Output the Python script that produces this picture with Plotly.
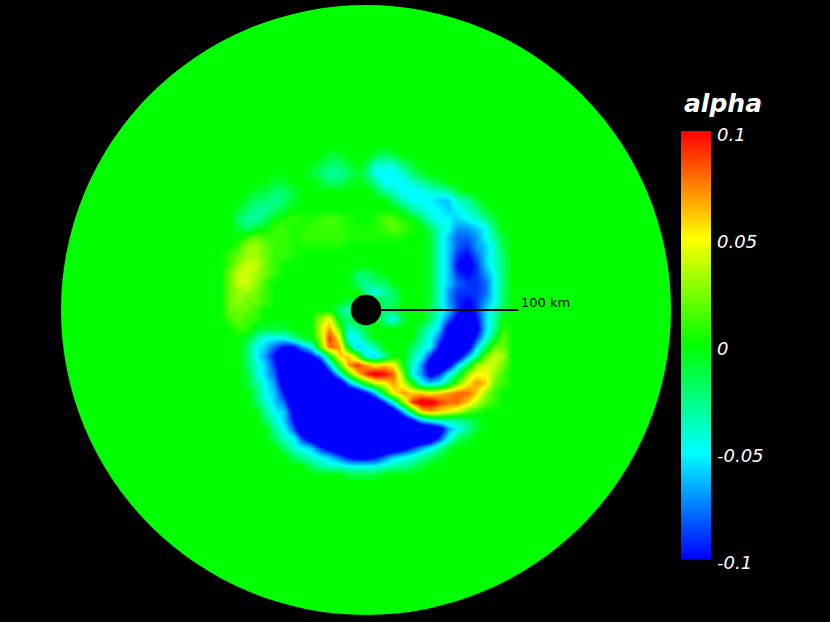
import plotly.graph_objects as go

# disc and hole sizes in km (scale)
disc_radius = 200
hole_radius = 10
line_km = [10, 100]

# colour bar ticks
tick_vals = [0.1, 0.05, 0, -0.05, -0.1]
tick_text = ["0.1", "0.05", "0", "-0.05", "-0.1"]

# grid of the central region, km
x_km = list(range(-96, 102, 6))
y_km = list(range(108, -114, -6))

# alpha in units of 0.01, read by eye (values below -10 saturate to blue)
alpha_rows = [
    [0,0,0,0,0,0,0,0,0,0,0,0,0,0,0,0,0,0,0,0,0,0,0,0,0,0,0,0,0,0,0,0,0],
    [0,0,0,0,0,0,0,0,0,0,0,0,-1,-1,0,0,0,-1,-2,-1,0,0,0,0,0,0,0,0,0,0,0,0,0],
    [0,0,0,0,0,0,0,0,0,0,0,-1,-2,-2,-1,0,-1,-4,-4,-4,-2,-1,0,0,0,0,0,0,0,0,0,0,0],
    [0,0,0,0,0,0,0,0,0,0,-1,-2,-3,-3,-2,-1,-2,-5,-5,-5,-4,-2,-1,0,0,0,0,0,0,0,0,0,0],
    [0,0,0,0,0,0,-1,-1,0,0,0,-1,-2,-2,-1,0,-1,-3,-5,-5,-5,-4,-3,-2,-1,0,0,0,0,0,0,0,0],
    [0,0,0,0,-1,-1,-2,-2,-1,0,0,0,0,0,0,0,0,-1,-3,-4,-5,-5,-5,-4,-4,-3,-1,0,0,0,0,0,0],
    [0,0,0,-1,-2,-2,-3,-2,-1,0,0,0,0,0,0,0,0,0,0,-2,-4,-5,-5,-5,-6,-6,-4,-3,-1,0,0,0,0],
    [0,0,-1,-2,-3,-3,-2,-1,0,0,0,0,0,0,0,0,0,0,0,0,-1,-3,-4,-5,-5,-6,-5,-4,-3,-1,0,0,0],
    [0,0,-2,-3,-3,-2,0,0.5,1,0.5,0.5,1,1.5,1,0.5,0,0,0.5,1.5,1.5,0.5,0,-2,-4,-5,-5,-6,-5,-4,-3,-1,0,0],
    [0,0,-1,-2,-1,0,1,1,0.5,0.5,1,1,1,1,0.5,0.5,0.5,0.5,1,2,1,0.5,0,-2,-4,-5,-7,-7,-6,-5,-2,0,0],
    [0,0,0,1,2,1,1,1,0.5,1,1,1,1,1,0.5,0.5,0.5,0.5,0.5,0.5,0.5,0,0,-1,-4,-6,-8,-8,-7,-5,-3,-1,0],
    [0,0,1,3,3,2,1,1,0.5,0.5,0.5,0.5,0.5,0.5,0,0,0,0,0,0,0,0,0,-1,-4,-6,-8,-9,-7,-6,-4,-1,0],
    [0,1,2,3,3,2,1,1,0.5,0,0,0,0,0,0,0,0,0,0,0,0,0,0,-1,-4,-6,-9,-10,-8,-6,-4,-2,0],
    [0,1,3,4,4,2,1,0,0,0,0,0,0,0,0,0,0,0,0,0,0,0,0,-1,-4,-6,-10,-11,-9,-6,-4,-2,0],
    [0,2,4,4,3,2,1,0,0,0,0,0,0,0,0,-2,-2,-1,0,0,0,0,0,-1,-4,-6,-9,-10,-9,-7,-5,-2,0],
    [0,2,4,4,3,1,0,0,0,0,0,0,0,0,0,-2,-3,-2,-2,0,0,0,0,-1,-4,-6,-8,-9,-9,-8,-5,-2,0],
    [0,2,3,3,2,1,0,0,0,0,0,0,0,0,0,0,-3,-5,-3,-2,0,0,0,-1,-4,-7,-9,-9,-9,-8,-5,-2,0],
    [0,2,3,2,2,1,0,0,0,0,0,0,0,0,-1,0,0,0,-2,-2,0,0,0,-1,-4,-7,-9,-10,-9,-7,-5,-2,0],
    [0,2,2,2,1,0,0,0,0,0,0,0,0,-2,-4,0,0,0,-2,-1,0,0,0,-2,-4,-6,-9,-11,-9,-6,-4,-1,0],
    [0,1,2,1,1,0,0,0,0,0,0,3,5,-1,-2,0,0,0,-3,-5,-1,0,0,-2,-5,-8,-11,-12,-10,-6,-3,0,0],
    [0,0,1,1,-1,-1,-1,-1,0,0,0,4,7,2,-4,-3,-1,0,0,0,0,0,-2,-4,-6,-11,-13,-13,-11,-6,-3,1,0],
    [0,0,0,-1,-3,-5,-5,-5,-3,-1,0,3,9,5,-5,-5,-2,0,0,0,0,0,-3,-5,-8,-12,-14,-13,-9,-5,-1,2,0],
    [0,0,0,-2,-5,-6,-8,-10,-10,-7,-5,2,8,7,-1,-6,-5,-3,0,0,0,-2,-4,-5,-10,-14,-14,-12,-6,-2,2,2,0],
    [0,0,0,-2,-5,-7,-10,-14,-14,-12,-10,-7,-1,6,6,2,-5,-6,-3,0,0,-3,-5,-9,-14,-14,-12,-7,-3,2,4,3,0],
    [0,0,0,-2,-4,-6,-9,-13,-14,-14,-14,-12,-6,1,7,9,7,5,6,5,0,-4,-7,-12,-14,-11,-6,-2,3,4,4,2,0],
    [0,0,0,-1,-4,-6,-8,-13,-14,-14,-14,-14,-11,-5,1,6,9,11,10,8,2,-5,-7,-11,-9,-5,-2,3,5,5,3,1,0],
    [0,0,0,-1,-3,-5,-7,-12,-14,-14,-14,-14,-14,-13,-7,-3,1,4,5,7,4,0,-5,-6,-5,-2,2,5,7,6,2,1,0],
    [0,0,0,0,-2,-5,-6,-10,-14,-14,-14,-14,-14,-14,-14,-13,-10,-6,0,5,7,6,6,5,6,7,8,8,6,3,1,0,0],
    [0,0,0,0,-2,-4,-6,-8,-13,-14,-14,-14,-14,-14,-14,-14,-14,-13,-9,-4,3,9,11,11,9,8,8,6,4,2,1,0,0],
    [0,0,0,0,0,-3,-5,-6,-11,-14,-14,-14,-14,-14,-14,-14,-14,-14,-14,-12,-6,0,6,7,6,5,4,2,1,0,0,0,0],
    [0,0,0,0,0,-2,-4,-6,-10,-14,-14,-14,-14,-14,-14,-14,-14,-14,-14,-14,-13,-10,-6,-4,-3,-3,-3,-2,-1,0,0,0,0],
    [0,0,0,0,0,0,-3,-5,-8,-13,-14,-14,-14,-14,-14,-14,-14,-14,-14,-14,-14,-14,-14,-14,-12,-7,-5,-3,-1,0,0,0,0],
    [0,0,0,0,0,0,-2,-4,-5,-9,-12,-14,-14,-14,-14,-14,-14,-14,-14,-14,-14,-14,-14,-13,-9,-5,-2,-1,0,0,0,0,0],
    [0,0,0,0,0,0,0,-2,-4,-5,-6,-9,-11,-13,-14,-14,-14,-14,-14,-13,-11,-9,-7,-5,-3,-1,0,0,0,0,0,0,0],
    [0,0,0,0,0,0,0,0,-2,-3,-4,-5,-6,-8,-10,-11,-11,-10,-8,-6,-5,-4,-3,-2,-1,0,0,0,0,0,0,0,0],
    [0,0,0,0,0,0,0,0,0,0,-2,-3,-4,-4,-5,-5,-5,-5,-4,-3,-3,-2,-1,0,0,0,0,0,0,0,0,0,0],
    [0,0,0,0,0,0,0,0,0,0,0,0,0,0,-1,-1,-1,-1,0,0,0,0,0,0,0,0,0,0,0,0,0,0,0],
]
assert all(len(r) == len(x_km) for r in alpha_rows) and len(alpha_rows) == len(y_km)

rainbow = [[0, "#0000ff"], [0.25, "#00ffff"], [0.5, "#00ff00"], [0.75, "#ffff00"], [1, "#ff0000"]]

fig = go.Figure()

fig.add_trace(go.Heatmap(
    x=x_km,
    y=y_km,
    z=[[v / 100 for v in r] for r in alpha_rows],
    zmin=-0.1,
    zmax=0.1,
    zsmooth="best",
    colorscale=rainbow,
    hoverinfo="skip",
    colorbar=dict(
        x=681 / 830, xanchor="left", xpad=0,
        y=1 - 131 / 622, yanchor="top", ypad=0,
        lenmode="pixels", len=428,
        thicknessmode="pixels", thickness=30,
        outlinewidth=0,
        ticks="",
        tickvals=tick_vals,
        showticklabels=False,
    ),
))

# the 100 km marker line
fig.add_trace(go.Scatter(
    x=line_km, y=[0, 0], mode="lines",
    line=dict(color="black", width=2),
    hoverinfo="skip", showlegend=False,
))

# green disc below the heatmap, black hole on top
fig.add_shape(type="circle", layer="below", x0=-disc_radius, x1=disc_radius, y0=-disc_radius, y1=disc_radius,
              fillcolor="#00ff00", line_width=0)
fig.add_shape(type="circle", layer="above", x0=-hole_radius, x1=hole_radius, y0=-hole_radius, y1=hole_radius,
              fillcolor="black", line_width=0)

fig.add_annotation(x=100.5, y=4.6, text="100 km", showarrow=False, xanchor="left",
                   font=dict(family="DejaVu Sans", size=13, color="black"))
fig.add_annotation(x=723 / 830, y=1 - 103 / 622, xref="paper", yref="paper", text="alpha", showarrow=False,
                   xanchor="center", yanchor="middle",
                   font=dict(family="DejaVu Sans", size=25, color="white", style="italic", weight="bold"))

# colour bar labels sit a little below their ticks in the original
for val, label in zip(tick_vals, tick_text):
    y_px = 131 + (0.1 - val) / 0.2 * 428 + 3
    fig.add_annotation(x=715 / 830, y=1 - y_px / 622, xref="paper", yref="paper", text=label, showarrow=False,
                       xanchor="left", yanchor="middle",
                       font=dict(family="DejaVu Sans", size=18, color="white", style="italic"))

fig.update_layout(
    width=830,
    height=622,
    margin=dict(l=0, r=0, t=0, b=0),
    paper_bgcolor="black",
    plot_bgcolor="black",
    showlegend=False,
    xaxis=dict(visible=False, range=[-240, 304.26]),
    yaxis=dict(visible=False, range=[-204.6, 203.3]),
)

fig.write_html("out.html", config={"displayModeBar": False},
               post_script="document.body.style.margin='0';document.body.style.background='black';")
